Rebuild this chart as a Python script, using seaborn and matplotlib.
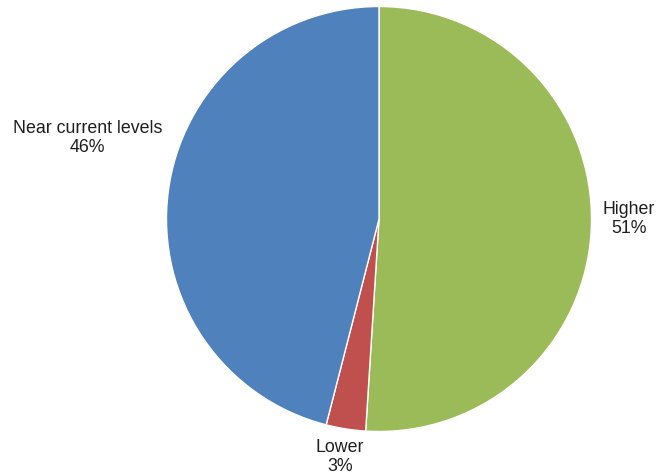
import matplotlib
matplotlib.use("Agg")
import matplotlib.pyplot as plt
import seaborn as sns
import numpy as np

categories = ["Higher", "Lower", "Near current levels"]
shares = [51, 3, 46]
colors = ["#9BBB59", "#C0504D", "#4F81BD"]
# label anchor points (axes data units, pie radius = 1)
label_xy = [(1.175, 0.0), (-0.185, -1.122), (-1.372, 0.38)]

sns.set_theme(style="white")
plt.rcParams["font.family"] = ["Liberation Sans", "DejaVu Sans"]

W, H = 657, 475
fig = plt.figure(figsize=(W / 100, H / 100), dpi=100)
cx, cy, r = 379, 219, 212.5
ax = fig.add_axes([(cx - r) / W, (H - cy - r) / H, 2 * r / W, 2 * r / H])

wedges, _ = ax.pie(
    shares,
    colors=colors,
    startangle=90,
    counterclock=False,
    radius=1,
    wedgeprops=dict(edgecolor="white", linewidth=1.0),
)
ax.set_xlim(-1, 1)
ax.set_ylim(-1, 1)
ax.set_aspect("equal")
ax.axis("off")

for name, val, (lx, ly) in zip(categories, shares, label_xy):
    ax.text(lx, ly, f"{name}\n{val}%", ha="center", va="center",
            fontsize=12.8, color="#1f1f1f", linespacing=1.15, clip_on=False)

fig.savefig("out.png", dpi=100, facecolor="white")
